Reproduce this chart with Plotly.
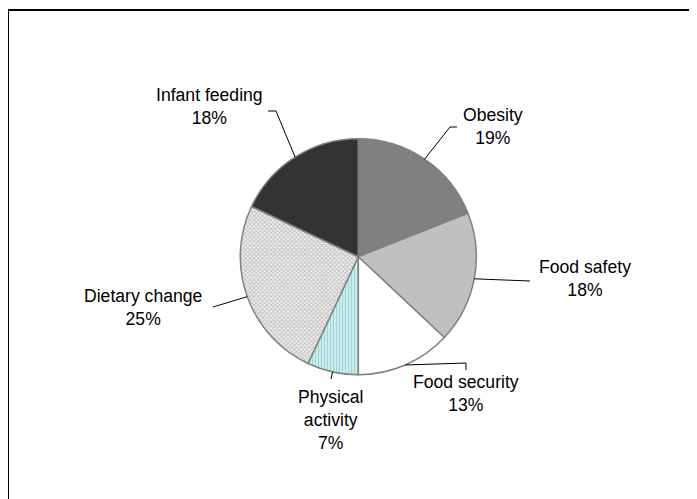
import math
import plotly.graph_objects as go

# ---- data ----
categories = ["Obesity", "Food safety", "Food security", "Physical activity", "Dietary change", "Infant feeding"]
values = [19, 18, 13, 7, 25, 18]
label_texts = ["Obesity<br>19%", "Food safety<br>18%", "Food security<br>13%",
               "Physical<br>activity<br>7%", "Dietary change<br>25%", "Infant feeding<br>18%"]

# ---- styles ----
W, H = 697, 499
OFF = 8  # default page body margin
CX, CY, R = 358.3, 256.7, 118.0   # pie centre / radius in window pixels
fill_colors = ["#808080", "#C0C0C0", "#FFFFFF", "#CCFFFF", "#FFFFFF", "#333333"]
pattern_shapes = ["", "", "", "|", "x", ""]
pattern_fg = ["#808080", "#C0C0C0", "#FFFFFF", "#A6CFCF", "#BDBDBD", "#333333"]
pattern_bg = ["#808080", "#C0C0C0", "#FFFFFF", "#D2FAFA", "#F4F4F4", "#333333"]

# label centre positions (px) and leader-line elbow points (px)
label_pos = [(493, 126), (585, 278), (466, 393), (331, 420), (143, 307), (209, 107)]
leader_pts = [
    [(450, 127), (457, 127)],
    [(530, 281)],
    [(466, 363), (466, 370)],
    [(331, 379)],
    [(213, 307)],
    [(276, 111), (268, 111)],
]

def px(x):
    return (x - OFF) / W

def py(y):
    return 1 - (y - OFF) / H

fig = go.Figure()
fig.add_trace(go.Pie(
    labels=categories,
    values=values,
    sort=False,
    direction="clockwise",
    rotation=0,
    textinfo="none",
    textposition="none",
    hoverinfo="label+percent",
    marker=dict(
        colors=fill_colors,
        line=dict(color="#808080", width=1.5),
        pattern=dict(shape=pattern_shapes, fgcolor=pattern_fg, bgcolor=pattern_bg,
                     fillmode="replace", size=3, solidity=0.5),
    ),
    domain=dict(x=[px(CX - R), px(CX + R)], y=[py(CY + R), py(CY - R)]),
    showlegend=False,
))

total = sum(values)
shapes = []
annotations = []
cum = 0
for i, v in enumerate(values):
    mid = (cum + v / 2) / total * 2 * math.pi
    cum += v
    ex = CX + R * math.sin(mid)
    ey = CY - R * math.cos(mid)
    pts = [(ex, ey)] + leader_pts[i]
    for (x0, y0), (x1, y1) in zip(pts[:-1], pts[1:]):
        shapes.append(dict(type="line", xref="paper", yref="paper",
                           x0=px(x0), y0=py(y0), x1=px(x1), y1=py(y1),
                           line=dict(color="black", width=1)))
    lx, ly = label_pos[i]
    annotations.append(dict(x=px(lx), y=py(ly), xref="paper", yref="paper",
                            text=label_texts[i], showarrow=False,
                            xanchor="center", yanchor="middle", align="center",
                            font=dict(family="Liberation Sans, Arial, sans-serif",
                                      size=17.6, color="black")))

# outer frame (only left and top edges visible)
shapes.append(dict(type="rect", xref="paper", yref="paper",
                   x0=px(8), x1=1.05, y0=-0.05, y1=py(10),
                   line=dict(color="black", width=2), fillcolor="rgba(0,0,0,0)"))

fig.update_layout(
    width=W, height=H,
    margin=dict(l=0, r=0, t=0, b=0),
    paper_bgcolor="white",
    plot_bgcolor="white",
    shapes=shapes,
    annotations=annotations,
)

fig.write_html("out.html")
